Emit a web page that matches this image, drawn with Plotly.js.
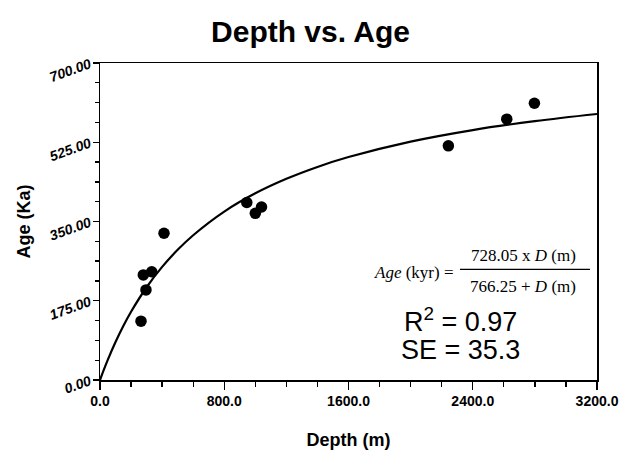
<!DOCTYPE html>
<html>
<head>
<meta charset="utf-8">
<script src="https://cdn.plot.ly/plotly-3.0.1.min.js"></script>
<style>html,body{margin:0;padding:0;background:#fff;}#chart{width:621px;height:450px;}</style>
</head>
<body>
<div id="chart"></div>
<script>
// Measured samples
const depthM = [264, 279, 296, 333, 412, 945, 1000, 1040, 2243, 2619, 2797];
const ageKa  = [130, 232, 199, 239, 324, 392, 368, 382, 517, 576, 611];

// Fitted curve
const curveDepth = [0, 25, 50, 100, 150, 200, 300, 400, 500, 600, 800, 1000, 1200, 1400, 1600, 2000, 2400, 2800, 3200];
const curveAge   = [0, 23.0, 44.6, 84.0, 119.2, 150.7, 204.8, 249.7, 287.5, 319.7, 371.9, 412.2, 444.3, 470.5, 492.3, 526.4, 551.9, 571.6, 587.4];

const xTickVals = [0, 800, 1600, 2400, 3200];
const yTickVals = [0, 175, 350, 525, 700];

const traces = [
  {x: curveDepth, y: curveAge, type: 'scatter', mode: 'lines',
   line: {color: '#000', width: 2.2, shape: 'spline'}, hoverinfo: 'skip', showlegend: false},
  {x: depthM, y: ageKa, type: 'scatter', mode: 'markers',
   marker: {color: '#000', size: 11.5}, showlegend: false}
];

const axisCommon = {
  showgrid: false, zeroline: false, showline: true, linecolor: '#000', linewidth: 1.5,
  mirror: true, ticks: 'outside', tickcolor: '#000', tickwidth: 1.3
};

const layout = {
  width: 621, height: 450,
  margin: {l: 100, r: 24, t: 63, b: 70},
  paper_bgcolor: '#fff', plot_bgcolor: '#fff',
  font: {family: 'Liberation Sans, Arial, sans-serif', color: '#000'},
  title: {text: '<b>Depth vs. Age</b>', x: 0.5, xref: 'container', xanchor: 'center',
          y: 0.93, yref: 'container', yanchor: 'middle',
          font: {size: 30, family: 'Liberation Sans, Arial, sans-serif', color: '#000'}},
  xaxis: Object.assign({}, axisCommon, {
    range: [0, 3200], tickvals: xTickVals, tickformat: '.1f', ticklen: 8,
    tickfont: {size: 14, weight: 'bold'},
    minor: {dtick: 200, ticks: 'outside', ticklen: 5, tickcolor: '#000', tickwidth: 1.3, showgrid: false},
    title: {text: '<b>Depth (m)</b>', font: {size: 18}, standoff: 26}
  }),
  yaxis: Object.assign({}, axisCommon, {
    range: [0, 700], tickvals: yTickVals, tickformat: '.2f', ticklen: 6,
    tickangle: -20,
    tickfont: {size: 14, weight: 'bold', style: 'italic'},
    minor: {dtick: 43.75, ticks: 'outside', ticklen: 4, tickcolor: '#000', tickwidth: 1.3, showgrid: false},
    title: {text: '<b>Age (Ka)</b>', font: {size: 18}, standoff: 12}
  }),
  shapes: [
    {type: 'line', xref: 'paper', yref: 'paper', x0: 0.7243, x1: 0.9859, y0: 0.349, y1: 0.349,
     line: {color: '#000', width: 1.3}}
  ],
  annotations: [
    {xref: 'paper', yref: 'paper', x: 0.716, y: 0.3385, xanchor: 'right', yanchor: 'middle', showarrow: false,
     text: '<i>Age</i> (kyr) =', font: {family: 'Liberation Serif, Times New Roman, serif', size: 17}},
    {xref: 'paper', yref: 'paper', x: 0.852, y: 0.394, xanchor: 'center', yanchor: 'middle', showarrow: false,
     text: '728.05 x <i>D</i> (m)', font: {family: 'Liberation Serif, Times New Roman, serif', size: 17}},
    {xref: 'paper', yref: 'paper', x: 0.852, y: 0.294, xanchor: 'center', yanchor: 'middle', showarrow: false,
     text: '766.25 + <i>D</i> (m)', font: {family: 'Liberation Serif, Times New Roman, serif', size: 17}},
    {xref: 'paper', yref: 'paper', x: 0.726, y: 0.189, xanchor: 'center', yanchor: 'middle', showarrow: false,
     text: 'R<sup>2</sup> = 0.97', font: {size: 27}},
    {xref: 'paper', yref: 'paper', x: 0.726, y: 0.0946, xanchor: 'center', yanchor: 'middle', showarrow: false,
     text: 'SE = 35.3', font: {size: 27}}
  ]
};

Plotly.newPlot('chart', traces, layout, {displayModeBar: false, staticPlot: true});
</script>
</body>
</html>
